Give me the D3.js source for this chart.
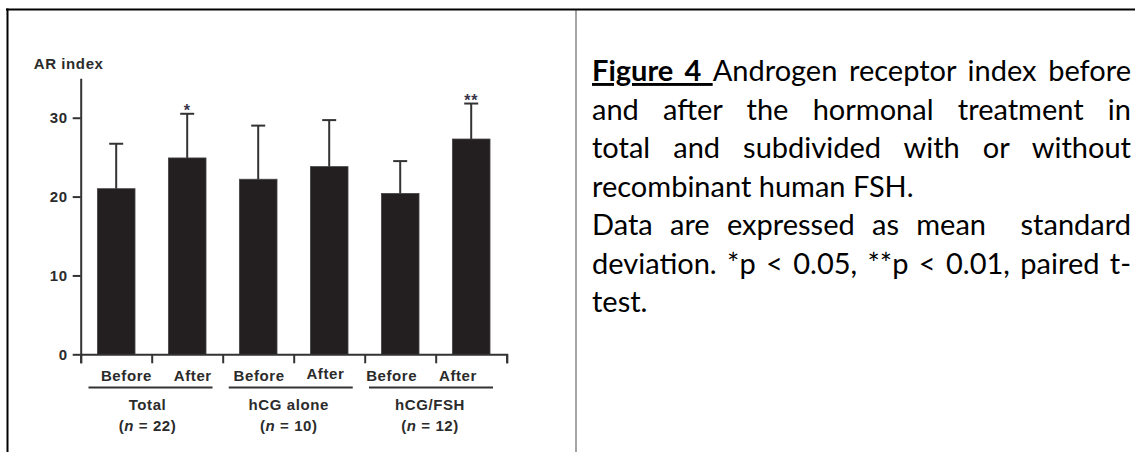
<!DOCTYPE html>
<html>
<head>
<meta charset="utf-8">
<script src="https://cdn.jsdelivr.net/npm/d3@7/dist/d3.min.js"></script>
<style>
  html, body { margin: 0; padding: 0; background: #fff; }
  svg { display: block; }
  .lab { font-family: "Liberation Sans", Arial, sans-serif; font-weight: bold; font-size: 15px; fill: #2b2b2b; letter-spacing: 0.6px; }
  .axis path, .axis line { stroke: #333; stroke-width: 2px; }
  .axis text { font-family: "Liberation Sans", Arial, sans-serif; font-weight: bold; font-size: 15px; fill: #2b2b2b; letter-spacing: 0.6px; }
  .caption { font-family: Lato, Carlito, sans-serif; font-size: 29px; fill: #000; white-space: pre; }
</style>
</head>
<body>
<svg width="1135" height="452"></svg>
<script>
// values
var groups = ["Total", "hCG alone", "hCG/FSH"];
var groupN = [22, 10, 12];
var phases = ["Before", "After"];
var means = [21.0, 24.9, 22.2, 23.8, 20.4, 27.3];
var sds = [5.7, 5.6, 6.8, 5.9, 4.1, 4.5];
var stars = ["", "*", "", "", "", "**"];
var yTicks = [0, 10, 20, 30];

var captionLines = [
  {bold: "Figure 4 ", text: "Androgen receptor index before", justify: true},
  {text: "and after the hormonal treatment in", justify: true},
  {text: "total and subdivided with or without", justify: true},
  {text: "recombinant human FSH.", justify: false},
  {text: "Data are expressed as mean  standard", justify: true},
  {text: "deviation. *p < 0.05, **p < 0.01, paired t-", justify: true},
  {text: "test.", justify: false}
];

var data = means.map((m, i) => ({
  id: i,
  group: groups[Math.floor(i / 2)],
  phase: phases[i % 2],
  mean: m,
  sd: sds[i],
  star: stars[i]
}));

var svg = d3.select("svg");

// frame
svg.append("line").attr("x1", 6).attr("x2", 1135).attr("y1", 9.5).attr("y2", 9.5)
  .attr("stroke", "#000").attr("stroke-width", 2);
svg.append("line").attr("x1", 7.5).attr("x2", 7.5).attr("y1", 8.5).attr("y2", 452)
  .attr("stroke", "#000").attr("stroke-width", 2);
svg.append("line").attr("x1", 576).attr("x2", 576).attr("y1", 10.5).attr("y2", 452)
  .attr("stroke", "#111").attr("stroke-width", 1.5).attr("stroke-dasharray", "1,1");

var x = d3.scaleBand()
  .domain(data.map(d => d.id))
  .range([80.7, 506.7])
  .paddingInner(0.47)
  .paddingOuter(0.235);

var y = d3.scaleLinear()
  .domain([0, 35])
  .range([354.3, 78.3]);

// the label row in the figure is set a little tighter than the bars
var xLab = d3.scalePoint().domain(data.map(d => d.id)).range([126.5, 458]);
var xGroup = d3.scalePoint().domain(groups).range([147.5, 430]);
var xRule = d3.scalePoint().domain(groups).range([150.5, 431]);

var g = svg.append("g");

// bars
g.selectAll(".bar")
  .data(data)
  .enter().append("rect")
  .attr("class", "bar")
  .attr("x", d => x(d.id))
  .attr("width", x.bandwidth())
  .attr("y", d => y(d.mean))
  .attr("height", d => y(0) - y(d.mean))
  .attr("fill", "#231f20")
  .attr("stroke", "#444")
  .attr("stroke-width", 0.8);

// error bars (upper only)
var err = g.selectAll(".err").data(data).enter().append("g").attr("class", "err")
  .attr("stroke", "#333").attr("stroke-width", 2);
err.append("line")
  .attr("x1", d => x(d.id) + x.bandwidth() / 2)
  .attr("x2", d => x(d.id) + x.bandwidth() / 2)
  .attr("y1", d => y(d.mean))
  .attr("y2", d => y(d.mean + d.sd));
err.append("line")
  .attr("x1", d => x(d.id) + x.bandwidth() / 2 - 7)
  .attr("x2", d => x(d.id) + x.bandwidth() / 2 + 7)
  .attr("y1", d => y(d.mean + d.sd))
  .attr("y2", d => y(d.mean + d.sd));

// significance stars
g.selectAll(".star")
  .data(data.filter(d => d.star))
  .enter().append("text")
  .attr("class", "lab")
  .attr("text-anchor", "middle")
  .style("font-size", "16px")
  .style("fill", "#3a3548")
  .attr("x", d => x(d.id) + x.bandwidth() / 2)
  .attr("y", d => y(d.mean + d.sd) + 2)
  .text(d => d.star);

// y axis
g.append("g")
  .attr("class", "axis")
  .attr("transform", `translate(${x.range()[0]},0)`)
  .call(d3.axisLeft(y).tickValues(yTicks).tickSize(8).tickSizeOuter(0).tickPadding(5))
  .append("text")
    .attr("class", "lab")
    .attr("x", -47)
    .attr("y", 69)
    .attr("text-anchor", "start")
    .text("AR index");

// x axis: ticks at the band boundaries
var edges = d3.scaleLinear().domain([0, data.length]).range(x.range());
g.append("g")
  .attr("class", "axis")
  .attr("transform", `translate(0,${y(0)})`)
  .call(d3.axisBottom(edges).ticks(data.length).tickSize(9).tickSizeOuter(9).tickFormat(""));

// phase labels
g.selectAll(".phase")
  .data(data)
  .enter().append("text")
  .attr("class", "lab")
  .attr("text-anchor", "middle")
  .attr("x", d => xLab(d.id))
  .attr("y", d => d.id === 3 ? 379 : 381)
  .text(d => d.phase);

// group underline and labels
groups.forEach(function(name, i) {
  g.append("line")
    .attr("x1", xRule(name) - 62).attr("x2", xRule(name) + 62)
    .attr("y1", 387.5).attr("y2", 387.5)
    .attr("stroke", "#333").attr("stroke-width", 2);
  g.append("text")
    .attr("class", "lab")
    .attr("text-anchor", "middle")
    .attr("x", xGroup(name))
    .attr("y", 410)
    .text(name);
  var t = g.append("text")
    .attr("class", "lab")
    .attr("text-anchor", "middle")
    .attr("x", xGroup(name))
    .attr("y", 431);
  t.append("tspan").text("(");
  t.append("tspan").style("font-style", "italic").text("n");
  t.append("tspan").text(" = " + groupN[i] + ")");
});

// caption, each line justified to the column width
var capLeft = 592, capRight = 1131;
captionLines.forEach(function(line, i) {
  var t = svg.append("text")
    .attr("class", "caption")
    .attr("x", capLeft)
    .attr("y", 81 + i * 38.5);
  var full = line.text;
  if (line.bold) {
    t.append("tspan").style("font-weight", "bold").style("text-decoration", "underline")
      .text(line.bold);
    full = line.bold + line.text;
  }
  t.append("tspan").text(line.text);
  if (line.justify) {
    var w = t.node().getComputedTextLength();
    var spaces = (full.match(/ /g) || []).length;
    t.attr("word-spacing", (capRight - capLeft - w) / spaces);
  }
});
</script>
</body>
</html>
